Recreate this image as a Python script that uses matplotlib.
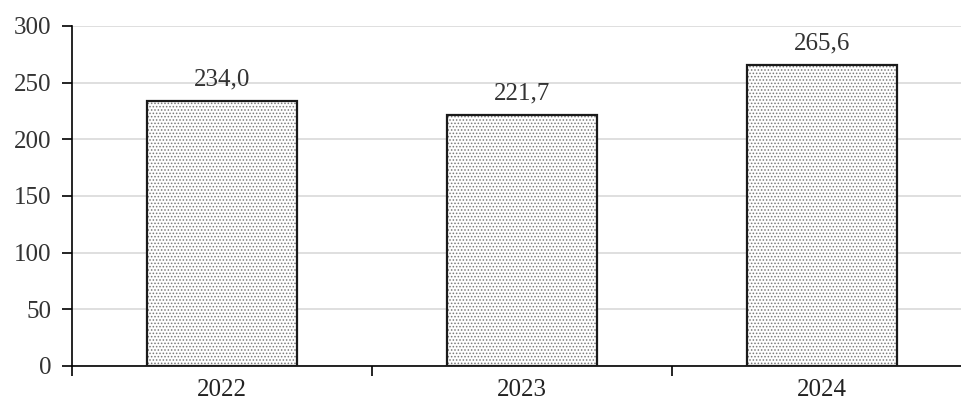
import matplotlib.pyplot as plt
import numpy

years = ['2022', '2023', '2024']
values = [234.0, 221.7, 265.6]
labels = ['234,0', '221,7', '265,6']

plt.rcParams['font.family'] = ['Liberation Serif', 'DejaVu Serif']
plt.rcParams['hatch.linewidth'] = 0.7

fig = plt.figure(figsize=(9.61, 4.07), dpi=100)
ax = fig.add_axes([72 / 961, 1 - 366 / 407, (961 - 72) / 961, (366 - 26) / 407])

x = numpy.arange(len(years))
# dotted fill first, then the black outline on top
ax.bar(x, values, width=0.5, color='white', edgecolor='#7a7a7a', hatch='.....', linewidth=0, zorder=2)
ax.bar(x, values, width=0.5, fill=False, edgecolor='#1a1a1a', linewidth=1.6, zorder=3)

for xi, v, lab in zip(x, values, labels):
    ax.text(xi, v + 9, lab, ha='center', va='bottom', fontsize=18, color='#333333')

ax.set_xlim(-0.5, 2.463)
ax.set_ylim(0, 300)
ax.set_yticks(range(0, 301, 50))
ax.yaxis.grid(True, color='#d9d9d9', linewidth=1.2, zorder=0)
ax.set_axisbelow(True)

# category labels between boundary ticks
ax.set_xticks([-0.5, 0.5, 1.5])
ax.set_xticklabels([])
ax.set_xticks(x, minor=True)
ax.set_xticklabels(years, minor=True)
ax.tick_params(axis='x', which='minor', length=0, pad=9, labelsize=18, labelcolor='#222222')
ax.tick_params(axis='x', which='major', length=7, width=1.2, direction='out')
ax.tick_params(axis='y', length=7, width=1.2, direction='out', labelsize=18, labelcolor='#333333', pad=8)

for side in ['top', 'right']:
    ax.spines[side].set_visible(False)
ax.spines['left'].set_linewidth(1.2)
ax.spines['bottom'].set_linewidth(1.2)

fig.savefig('out.png', dpi=100)
